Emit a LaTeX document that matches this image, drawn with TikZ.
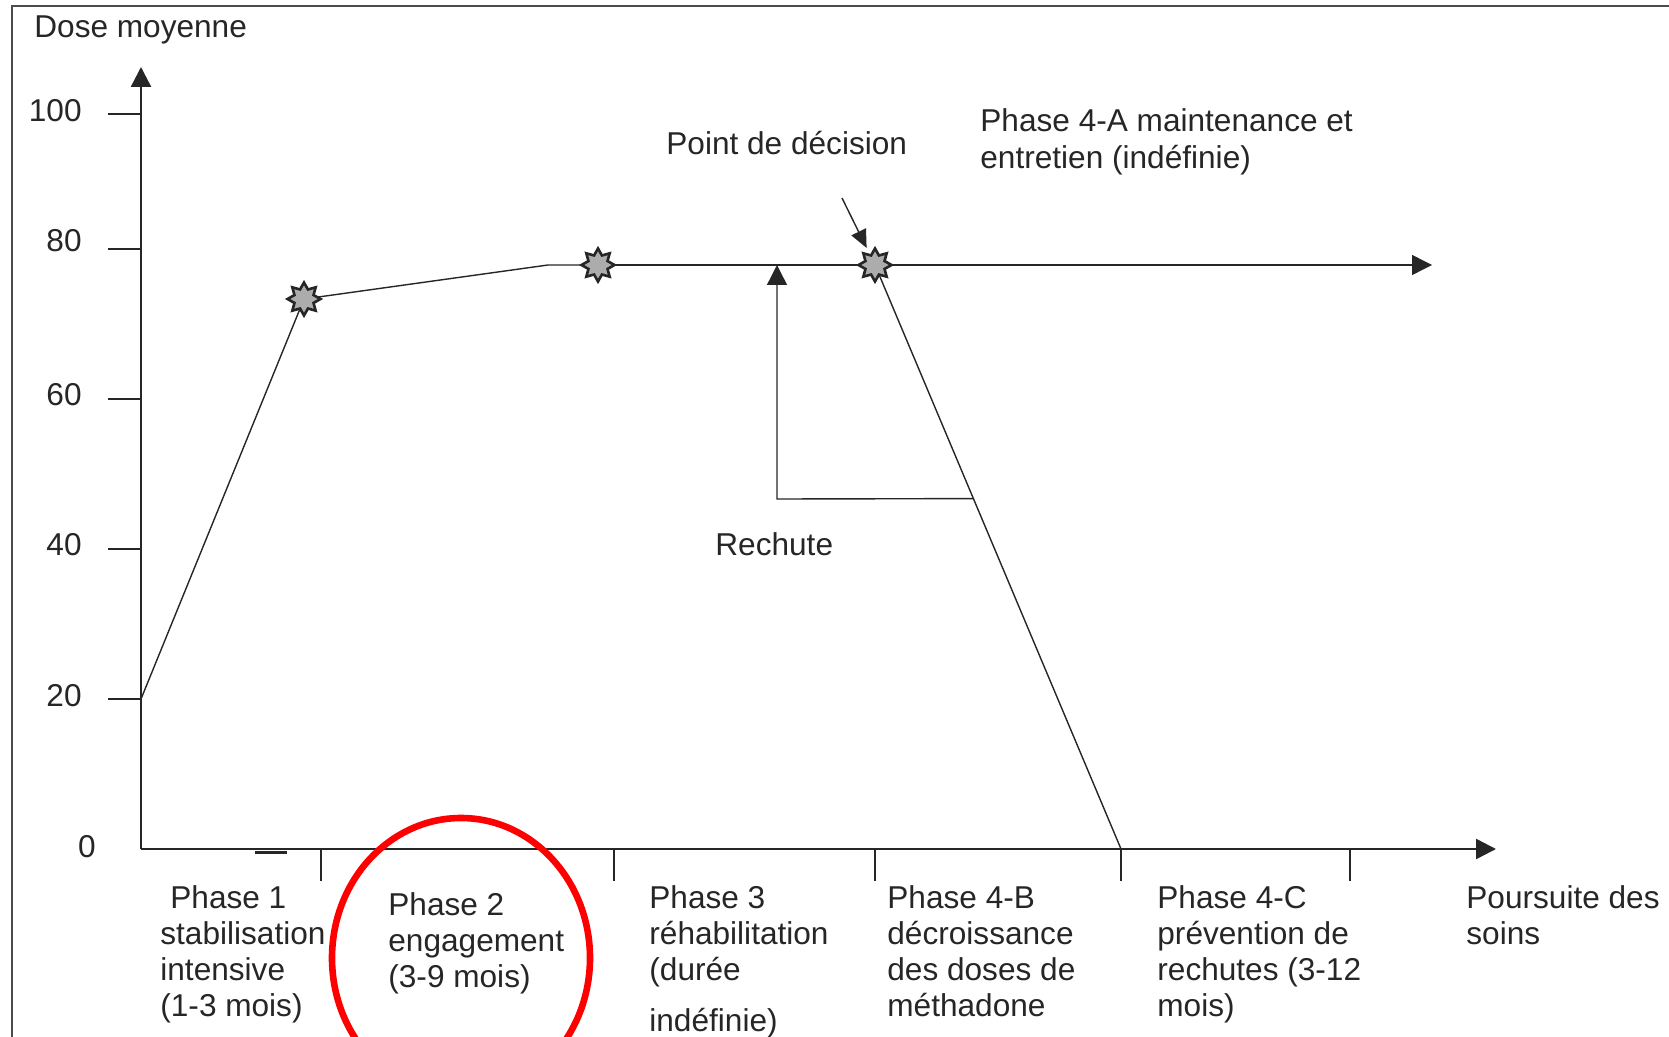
\documentclass[tikz,border=0pt]{standalone}
\usepackage{fontspec}
\setmainfont{Liberation Sans}
\usetikzlibrary{arrows.meta,shapes.geometric,calc}
\def\tip{-{Triangle[length=10pt,width=10pt]}}

\begin{document}
\begin{tikzpicture}[x=0.5pt,y=-0.5pt,
  every node/.style={inner sep=0pt,text=black!85,font=\fontsize{15.8}{18.1}\selectfont},
  axe/.style={line width=1.2pt,black!85},
  courbe/.style={line width=0.7pt,black!85},
  graduation/.style={line width=0.8pt,black!85},
  etoile/.style={star,star points=8,star point ratio=1.6,minimum size=16.5pt,fill=gray!65,draw=black!85,line width=1.3pt},
  phase/.style={anchor=north west,align=left}
]
\useasboundingbox (0,0) rectangle (1669,1037);
\draw[line width=1pt,black!70] (12,1037) -- (12,6) -- (1669,6);

% axes
\coordinate (o) at (141,849);
\coordinate (ytop) at (141,67);
\coordinate (xend) at (1496,849);
\draw[axe,\tip] (o) -- (ytop);
\draw[axe,\tip] (o) -- (xend);
\draw[line width=1.5pt,black!85] (255,852) -- (287,852);
\node[anchor=west] (titre) at (34,30) {Dose moyenne};

% graduations
\foreach \y/\v in {114/100,249/80,399/60,549/40,699/20}
  \draw[graduation] (108,\y) -- (141,\y);
\foreach \y/\v in {111/100,241/80,395/60,545/40,696/20}
  \node[anchor=east] (g\v) at (82,\y) {\v};
\node (g0) at (87,847) {0};
\foreach \x in {321,614,875,1121,1350}
  \draw[graduation] (\x,849) -- (\x,881);

% courbe
\coordinate (c0) at (141,699);
\coordinate (c1) at (548,265);
\coordinate (fin) at (1432,265);
\coordinate (p4c) at (1121,849);
\coordinate (s1) at (304,299);
\coordinate (s2) at (598,265);
\coordinate (s3) at (875,265);
\draw[courbe] (c0) -- (s1) -- (c1) -- (s2);
\draw[courbe,\tip] (s2) -- (fin);
\draw[courbe] (s3) -- (p4c);
\foreach \s in {s1,s2,s3}
  \node[etoile] (e\s) at (\s) {};

% rechute
\coordinate (rr) at ($(s3)!0.4!(p4c)$);
\coordinate (rtop) at (777,265);
\draw[courbe,\tip] (rr) -- (777,499) -- (rtop);
\node[anchor=west] (rechute) at (715,544) {Rechute};

% decision
\coordinate (dec) at (842,198);
\draw[courbe,-{Triangle[length=9pt,width=8pt]},shorten >=9.5pt] (dec) -- (s3);
\node[anchor=west] (decision) at (666,143) {Point de décision};
\node[anchor=north west,align=left,font=\fontsize{15.8}{18.5}\selectfont] (p4a) at (980,108)
  {Phase 4-A maintenance et\\entretien (indéfinie)};

% phases
\node[phase] (ph1) at (160,885) {\hspace{5pt}Phase 1\\stabilisation\\intensive\\(1-3 mois)};
\node[phase] (ph2) at (388,892) {Phase 2\\engagement\\(3-9 mois)};
\node[phase] (ph3) at (649,885) {Phase 3\\réhabilitation\\(durée\\[7.5pt]indéfinie)};
\node[phase] (ph4b) at (887,885) {Phase 4-B\\décroissance\\des doses de\\méthadone};
\node[phase] (ph4c) at (1157,885) {Phase 4-C\\prévention de\\rechutes (3-12\\mois)};
\node[phase] (suite) at (1466,885) {Poursuite des\\soins};

% cercle
\draw[red,line width=3.3pt] (461,958) ellipse [x radius=129,y radius=140];
\end{tikzpicture}
\end{document}
